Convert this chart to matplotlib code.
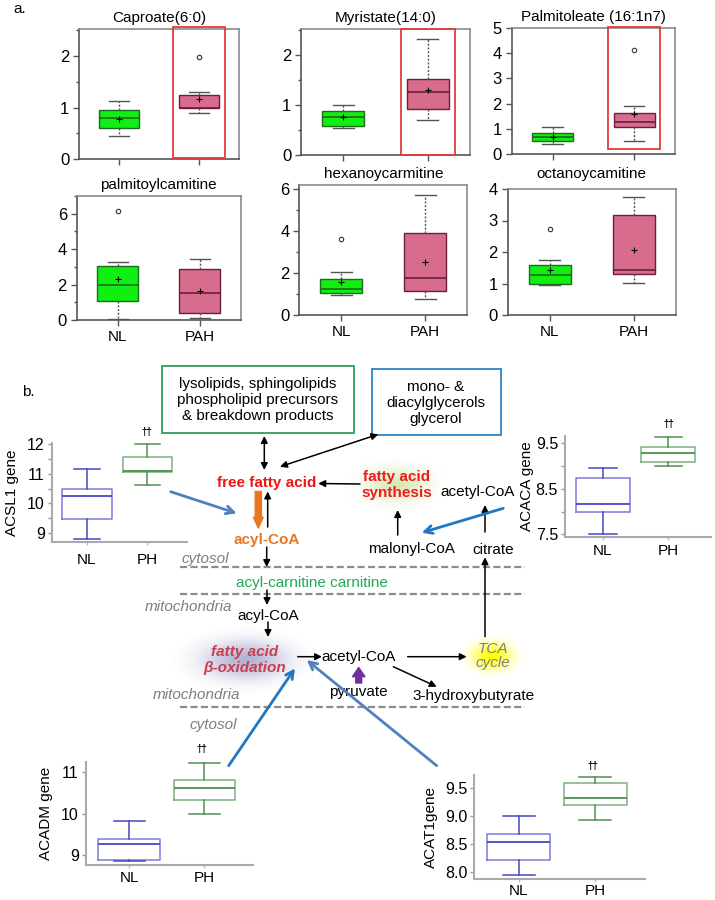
import numpy as np
import matplotlib
matplotlib.use("Agg")
import matplotlib.pyplot as plt
from matplotlib.patches import Rectangle

plt.rcParams['font.family'] = ['Liberation Sans', 'DejaVu Sans']

# ---------------- data ----------------
# five-number summaries: whisker low, q1, median, q3, whisker high
metabolites = ["Caproate(6:0)", "Myristate(14:0)", "Palmitoleate (16:1n7)",
               "palmitoylcamitine", "hexanoycarmitine", "octanoycamitine"]
groups_a = ["NL", "PAH"]
nl_five = [[0.45, 0.61, 0.79, 0.95, 1.12],
           [0.55, 0.59, 0.76, 0.88, 1.00],
           [0.37, 0.51, 0.66, 0.81, 1.08],
           [0.04, 1.06, 1.96, 3.06, 3.30],
           [0.95, 1.05, 1.24, 1.71, 2.08],
           [0.94, 0.98, 1.26, 1.58, 1.74]]
pah_five = [[0.89, 0.99, 1.00, 1.25, 1.31],
            [0.70, 0.93, 1.27, 1.52, 2.33],
            [0.52, 1.05, 1.27, 1.63, 1.89],
            [0.10, 0.41, 1.51, 2.87, 3.45],
            [0.76, 1.16, 1.76, 3.93, 5.74],
            [1.03, 1.30, 1.42, 3.17, 3.75]]
nl_mean = [0.78, 0.76, 0.66, 2.30, 1.57, 1.43]
pah_mean = [1.17, 1.31, 1.57, 1.64, 2.52, 2.07]
nl_out = [[], [], [], [6.17], [3.62], [2.73]]
pah_out = [[1.98], [], [4.13], [], [], []]
ymax_a = [2.52, 2.52, 5.0, 7.0, 6.2, 4.0]
yticks_a = [[0, 1, 2], [0, 1, 2], [0, 1, 2, 3, 4, 5], [0, 2, 4, 6], [0, 2, 4, 6], [0, 1, 2, 3, 4]]
yminor_a = [[0.5, 1.5, 2.5], [0.5, 1.5, 2.5], [], [1, 3, 5, 7], [1, 3, 5], []]
highlight_y = [(0.02, 2.56), (0.0, 2.53), (0.17, 5.06), None, None, None]

genes = ["ACSL1 gene", "ACACA gene", "ACADM gene", "ACAT1gene"]
groups_b = ["NL", "PH"]
gene_nl = [[8.79, 9.46, 10.23, 10.49, 11.15],
           [7.51, 7.99, 8.17, 8.74, 8.94],
           [8.85, 8.88, 9.26, 9.38, 9.83],
           [7.95, 8.22, 8.54, 8.67, 8.99]]
gene_ph = [[10.63, 11.07, 11.09, 11.57, 12.02],
           [8.99, 9.08, 9.27, 9.41, 9.62],
           [10.00, 10.33, 10.63, 10.81, 11.22],
           [8.92, 9.20, 9.32, 9.59, 9.69]]
gene_ylim = [(8.69, 12.05), (7.45, 9.65), (8.77, 11.26), (7.88, 9.72)]
gene_yticks = [[9, 9.5, 10, 10.5, 11, 11.5, 12], [7.5, 8.0, 8.5, 9.0, 9.5],
               [9, 10, 11], [8.0, 8.5, 9.0, 9.5]]
gene_yticklabels = [["9", "", "10", "", "11", "", "12"], ["7.5", "", "8.5", "", "9.5"],
                    ["9", "10", "11"], ["8.0", "8.5", "9.0", "9.5"]]
sig_mark = "\u2020\u2020"

# ---------------- figure ----------------
W, H = 715, 900
fig = plt.figure(figsize=(W / 100, H / 100), dpi=100)


def px_axes(l, t, r, b):
    return fig.add_axes([l / W, 1 - b / H, (r - l) / W, (b - t) / H])


def stats(five, mean=None, fliers=()):
    return dict(whislo=five[0], q1=five[1], med=five[2], q3=five[3],
                whishi=five[4], mean=mean, fliers=list(fliers))


# ---------- part a ----------
a_rects = [(79, 29, 239, 159.3), (301, 29, 470, 155), (511.7, 28.3, 675, 153.7),
           (76.7, 196, 241, 320), (299.3, 185.3, 467.3, 315.3), (507.7, 189, 676, 315)]
title_pads = [5, 5, 5, 5, 5, 8]
for i in range(6):
    ax = px_axes(*a_rects[i])
    bp = ax.bxp([stats(nl_five[i], nl_mean[i], nl_out[i]),
                 stats(pah_five[i], pah_mean[i], pah_out[i])],
                positions=[1, 2], widths=0.5, capwidths=0.25, patch_artist=True,
                showmeans=True,
                meanprops=dict(marker='+', markeredgecolor='k', markersize=5, markeredgewidth=0.8),
                flierprops=dict(marker='o', markerfacecolor='none', markeredgecolor='#333333',
                                markersize=3.2, markeredgewidth=0.8),
                whiskerprops=dict(linestyle=(0, (1.5, 1.2)), color='#555555', lw=1),
                capprops=dict(color='#555555', lw=1),
                medianprops=dict(lw=1.2))
    fills = ['#11ee11', '#d86c8c']
    edges = ['#1d6b1d', '#6b1f3f']
    for j in range(2):
        bp['boxes'][j].set_facecolor(fills[j])
        bp['boxes'][j].set_edgecolor(edges[j])
        bp['boxes'][j].set_linewidth(1)
        bp['medians'][j].set_color(edges[j])
    ax.set_xlim(0.5, 2.5)
    ax.set_ylim(0, ymax_a[i])
    ax.set_yticks(yticks_a[i])
    ax.set_yticks(yminor_a[i], minor=True)
    ax.set_xticks([1, 2])
    if i >= 3:
        ax.set_xticklabels(groups_a, fontsize=11)
    else:
        ax.set_xticklabels([])
    ax.tick_params(axis='both', which='major', length=4, width=1, color='#555555',
                   labelsize=12, pad=3)
    ax.tick_params(axis='x', labelsize=11, pad=3)
    ax.tick_params(axis='y', which='minor', length=2.5, width=1, color='#555555')
    for s in ['top', 'right']:
        ax.spines[s].set_color('#8a8a8a')
    for s in ['left', 'bottom']:
        ax.spines[s].set_color('#555555')
    for s in ax.spines.values():
        s.set_linewidth(1.2)
    ax.set_title(metabolites[i], fontsize=11, pad=title_pads[i])
    if highlight_y[i] is not None:
        y0, y1 = highlight_y[i]
        ax.add_patch(Rectangle((2 - 0.32, y0), 0.64, y1 - y0, fill=False,
                               edgecolor='#e23b3b', lw=1.3, clip_on=False, zorder=5))

# ---------- gene boxplots ----------
g_rects = [(51.7, 443, 186.7, 541.7), (565, 436, 710.7, 536.7),
           (85.7, 761.7, 253.3, 864.7), (474.3, 775.3, 645, 878.7)]
g_labelpad = [6, 1, 6, 5]
g_xpad = [6, 3, 2.5, 1.5]
nl_col, nl_med = '#7a7ae0', '#4646c4'
ph_col, ph_med = '#7fb07f', '#4f8f4f'
for i in range(4):
    ax = px_axes(*g_rects[i])
    bp = ax.bxp([stats(gene_nl[i]), stats(gene_ph[i])], positions=[1, 2],
                widths=0.82, capwidths=0.42, showfliers=False,
                boxprops=dict(lw=1.1), whiskerprops=dict(lw=1.1),
                capprops=dict(lw=1.1), medianprops=dict(lw=1.3))
    for j, (c, m) in enumerate([(nl_col, nl_med), (ph_col, ph_med)]):
        bp['boxes'][j].set_color(c)
        bp['medians'][j].set_color(m)
        for k in (2 * j, 2 * j + 1):
            bp['whiskers'][k].set_color(m)
            bp['caps'][k].set_color(m)
    ax.set_xlim(0.42, 2.65)
    ax.set_ylim(*gene_ylim[i])
    ax.set_yticks(gene_yticks[i])
    ax.set_yticklabels(gene_yticklabels[i])
    ax.set_xticks([1, 2])
    ax.set_xticklabels(groups_b)
    ax.tick_params(axis='y', length=3, width=1, color='#999999', labelsize=11.5, pad=2)
    ax.tick_params(axis='x', length=2, width=1, color='#bbbbbb', labelsize=11, pad=g_xpad[i])
    for s in ['top', 'right']:
        ax.spines[s].set_visible(False)
    for s in ['left', 'bottom']:
        ax.spines[s].set_color('#aaaaaa')
        ax.spines[s].set_linewidth(1.5)
    ax.set_ylabel(genes[i], fontsize=11, labelpad=g_labelpad[i])
    ax.patch.set_alpha(0)

# ---------- overlay diagram ----------
ov = fig.add_axes([0, 0, 1, 1])
ov.axis('off')


def glow(cx, cy, rx, ry, rgb, amax):
    n = 120
    x = np.linspace(-1, 1, n)
    X, Y = np.meshgrid(x, x)
    r2 = X ** 2 + Y ** 2
    a = amax * np.exp(-r2 * 2.5) * np.clip(1 - r2, 0, 1)
    img = np.zeros((n, n, 4))
    img[..., :3] = matplotlib.colors.to_rgb(rgb)
    img[..., 3] = a
    ov.imshow(img, extent=(cx - rx, cx + rx, cy + ry, cy - ry), aspect='auto',
              interpolation='bilinear', zorder=0)


glow(245, 660, 78, 36, '#9a9ac8', 0.75)
glow(492, 656, 36, 24, '#ffff00', 1.0)
glow(397, 485, 55, 30, '#d4e4a8', 0.85)
ov.set_xlim(0, W)
ov.set_ylim(H, 0)

ov.text(13, 9, "a.", fontsize=11, ha='left', va='center')
ov.text(22, 392, "b.", fontsize=11, ha='left', va='center')

# boxes
ov.add_patch(Rectangle((161.7, 366), 192.3, 67.3, fill=False, edgecolor='#3aa46a', lw=1.4))
ov.text(257.7, 400, "lysolipids, sphingolipids\nphospholipid precursors\n& breakdown products",
        ha='center', va='center', fontsize=11, linespacing=1.2)
ov.add_patch(Rectangle((371.7, 369.3), 129.3, 66, fill=False, edgecolor='#3b8dc8', lw=1.4))
ov.text(436, 403, "mono- &\ndiacylglycerols\nglycerol", ha='center', va='center',
        fontsize=11, linespacing=1.18)

gray = '#7f7f7f'
ov.text(267, 483, "free fatty acid", color='#ee1515', fontweight='bold', fontsize=11,
        ha='center', va='center')
ov.text(397, 485, "fatty acid\nsynthesis", color='#ee1c1c', fontweight='bold', fontsize=11,
        ha='center', va='center', linespacing=1.1)
ov.text(478, 492, "acetyl-CoA", fontsize=11, ha='center', va='center')
ov.text(411.7, 549.5, "malonyl-CoA", fontsize=11, ha='center', va='center')
ov.text(492.7, 549.5, "citrate", fontsize=11, ha='center', va='center')
ov.text(266.7, 540, "acyl-CoA", color='#e87722', fontweight='bold', fontsize=11,
        ha='center', va='center')
ov.text(205, 559, "cytosol", color=gray, style='italic', fontsize=11, ha='center', va='center')
ov.text(312, 583.5, "acyl-carnitine carnitine", color='#1faa55', fontsize=11,
        ha='center', va='center')
ov.text(188.3, 606.7, "mitochondria", color=gray, style='italic', fontsize=11,
        ha='center', va='center')
ov.text(268.3, 615.7, "acyl-CoA", fontsize=11, ha='center', va='center')
ov.text(245, 660, "fatty acid\n\u03b2-oxidation", color='#c84050', fontweight='bold',
        style='italic', fontsize=11, ha='center', va='center', linespacing=1.1)
ov.text(359, 656.7, "acetyl-CoA", fontsize=11, ha='center', va='center')
ov.text(492.7, 656, "TCA\ncycle", color=gray, style='italic', fontsize=11,
        ha='center', va='center', linespacing=1.05)
ov.text(358.7, 692, "pyruvate", fontsize=11, ha='center', va='center')
ov.text(474, 696, "3-hydroxybutyrate", fontsize=11, ha='center', va='center')
ov.text(196.7, 695, "mitochondria", color=gray, style='italic', fontsize=11,
        ha='center', va='center')
ov.text(213.7, 725, "cytosol", color=gray, style='italic', fontsize=11,
        ha='center', va='center')

for y in (567.3, 594, 707.3):
    ov.plot([180, 525], [y, y], color='#8c8c8c', lw=1.6, ls=(0, (3.2, 1.5)))


def arrow(tail, head, color='k', lw=1.1, style='-|>', ms=10):
    ov.annotate('', xy=head, xytext=tail,
                arrowprops=dict(arrowstyle=style, color=color, lw=lw, shrinkA=0,
                                shrinkB=0, mutation_scale=ms))


arrow((264.3, 436), (264.3, 470), style='<|-|>')
arrow((378.3, 434.3), (280, 466.7), style='<|-|>')
arrow((360, 484), (318.3, 483.5))
arrow((267.7, 527), (267.7, 491.5))
arrow((266.7, 547), (266.7, 567))
arrow((267, 590), (267, 605))
arrow((268, 622), (268, 637))
arrow((297.7, 656.7), (322, 656.7))
arrow((407.7, 656.7), (466.7, 656.7))
arrow((393.3, 666.7), (436.7, 686.7))
arrow((485, 636.7), (485, 557.3))
arrow((397.7, 535), (397.7, 510))
arrow((485, 532), (485, 505))

# orange and purple block arrows
ov.annotate('', xy=(258.3, 528), xytext=(258.3, 491.5),
            arrowprops=dict(arrowstyle='simple,head_length=0.55,head_width=0.5,tail_width=0.32',
                            color='#e87722', shrinkA=0, shrinkB=0, mutation_scale=14))
ov.annotate('', xy=(358.7, 667.5), xytext=(358.7, 683),
            arrowprops=dict(arrowstyle='simple,head_length=0.55,head_width=0.75,tail_width=0.35',
                            color='#7030a0', shrinkA=0, shrinkB=0, mutation_scale=12))

# gene -> process arrows
arrow((170.7, 491.7), (236.7, 513.3), color='#4f81bd', lw=2, style='->', ms=14)
arrow((503.3, 508.3), (421.7, 532.7), color='#1f78c1', lw=2, style='->', ms=14)
arrow((228.7, 765.7), (295, 668.3), color='#1f78c1', lw=2, style='->', ms=14)
arrow((436.7, 765.7), (306.7, 660), color='#4f81bd', lw=2, style='->', ms=14)

# significance marks
for (x, y) in [(146.7, 432.3), (668.3, 424.3), (201.7, 749.3), (592.3, 765.7)]:
    ov.text(x, y, sig_mark, fontsize=7, fontweight='bold', ha='center', va='center')

ov.set_xlim(0, W)
ov.set_ylim(H, 0)
fig.savefig("out.png", dpi=100)
